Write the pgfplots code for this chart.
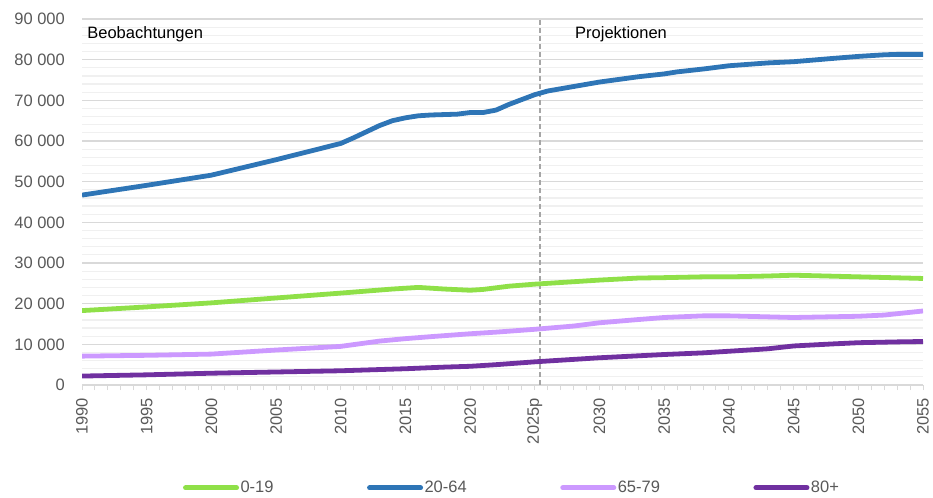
\documentclass[border=0pt]{standalone}
\usepackage{pgfplots}
\pgfplotsset{compat=1.18}
\usepackage{fontspec}
\setmainfont{Liberation Sans}
\definecolor{cgreen}{HTML}{8FE048}
\definecolor{cblue}{HTML}{2E75B6}
\definecolor{clil}{HTML}{CC99FF}
\definecolor{cpur}{HTML}{7030A0}
\definecolor{ctick}{HTML}{595959}
\definecolor{cgrid}{HTML}{D9D9D9}
\definecolor{cmin}{HTML}{F0F0F0}
\begin{document}
\fontsize{16.5bp}{19bp}\selectfont
\begin{tikzpicture}
\begin{axis}[
  scale only axis, width=841bp, height=366bp,
  xmin=1990, xmax=2055, ymin=0, ymax=90000,
  scaled y ticks=false,
  axis x line*=bottom, axis y line*=left,
  x axis line style={cgrid, line width=1.3bp},
  y axis line style={draw=none},
  xtick={1990,1995,...,2055},
  xticklabels={1990,1995,2000,2005,2010,2015,2020,2025p,2030,2035,2040,2045,2050,2055},
  minor x tick num=4,
  tick align=outside,
  major tick length=5bp, minor tick length=5bp,
  xtick style={cgrid, line width=1bp},
  minor x tick style={cgrid, line width=1bp},
  ytick={0,10000,...,90000},
  yticklabels={0,10 000,20 000,30 000,40 000,50 000,60 000,70 000,80 000,90 000},
  minor y tick num=4,
  ytick style={draw=none}, minor y tick style={draw=none},
  ymajorgrids, yminorgrids,
  major grid style={cgrid, line width=1.3bp},
  minor grid style={cmin, line width=1.2bp},
  ticklabel style={font=\fontsize{16.5bp}{19bp}\selectfont, text=ctick},
  yticklabel style={anchor=east, inner sep=0pt, xshift=-12bp},
  xticklabel style={rotate=90, anchor=east, inner sep=0pt, xshift=-8bp},
  legend style={at={(0.511,-0.281)}, anchor=center, draw=none, fill=none,
    legend columns=4, font=\fontsize{16.5bp}{19bp}\selectfont, text=ctick,
    /tikz/every even column/.append style={column sep=92bp},
    nodes={inner sep=1.5bp}},
  legend image code/.code={\draw[#1, line width=5bp, line cap=round] (0bp,0bp) -- (51bp,0bp);},
  line join=round,
]
\addplot[forget plot, color=black!35, line width=1.3bp, dash pattern=on 5bp off 3bp] coordinates {(2025.4,0) (2025.4,90000)};
\addplot[cgreen, line width=4.8bp] coordinates {
(1990,18300) (1995,19200) (2000,20200) (2005,21400) (2010,22600) (2014,23600) (2016,24000) (2018,23600) (2020,23300) (2021,23500) (2023,24300) (2025,24800) (2027,25200) (2030,25800) (2033,26300) (2035,26400) (2038,26600) (2040,26600) (2043,26800) (2045,27000) (2050,26600) (2055,26200)};
\addlegendentry{0-19}
\addplot[cblue, line width=4.8bp] coordinates {
(1990,46700) (1995,49100) (2000,51600) (2005,55400) (2010,59400) (2011,60800) (2012,62300) (2013,63800) (2014,65000) (2015,65700) (2016,66200) (2017,66400) (2018,66500) (2019,66600) (2020,67000) (2021,67000) (2022,67600) (2023,69000) (2024,70200) (2025,71400) (2026,72300) (2028,73400) (2030,74500) (2033,75800) (2035,76500) (2036,77000) (2038,77700) (2040,78500) (2043,79200) (2045,79500) (2048,80300) (2050,80800) (2052,81200) (2053,81300) (2055,81300)};
\addlegendentry{20-64}
\addplot[clil, line width=4.8bp] coordinates {
(1990,7100) (1995,7300) (2000,7600) (2005,8600) (2010,9500) (2013,10800) (2015,11400) (2017,11900) (2020,12600) (2022,13000) (2025,13700) (2028,14500) (2030,15300) (2033,16100) (2035,16600) (2038,17000) (2040,17000) (2045,16600) (2050,16900) (2052,17200) (2055,18200)};
\addlegendentry{65-79}
\addplot[cpur, line width=4.8bp] coordinates {
(1990,2200) (1995,2500) (2000,2900) (2005,3200) (2010,3500) (2015,4000) (2018,4400) (2020,4600) (2022,5000) (2025,5700) (2028,6300) (2030,6700) (2035,7500) (2038,7900) (2040,8300) (2043,8900) (2045,9600) (2048,10100) (2050,10400) (2053,10600) (2055,10700)};
\addlegendentry{80+}
\node[anchor=base west, inner sep=0pt, font=\fontsize{16.5bp}{19bp}\selectfont] at (axis cs:1990.4,85300) {Beobachtungen};
\node[anchor=base west, inner sep=0pt, font=\fontsize{16.5bp}{19bp}\selectfont] at (axis cs:2028.1,85300) {Projektionen};
\coordinate (sw) at (rel axis cs:0,0);
\coordinate (ne) at (rel axis cs:1,1);
\end{axis}
\pgfresetboundingbox
\path[use as bounding box] ([shift={(-82bp,-112bp)}]sw) rectangle ([shift={(10bp,19bp)}]ne);
\end{tikzpicture}
\end{document}
